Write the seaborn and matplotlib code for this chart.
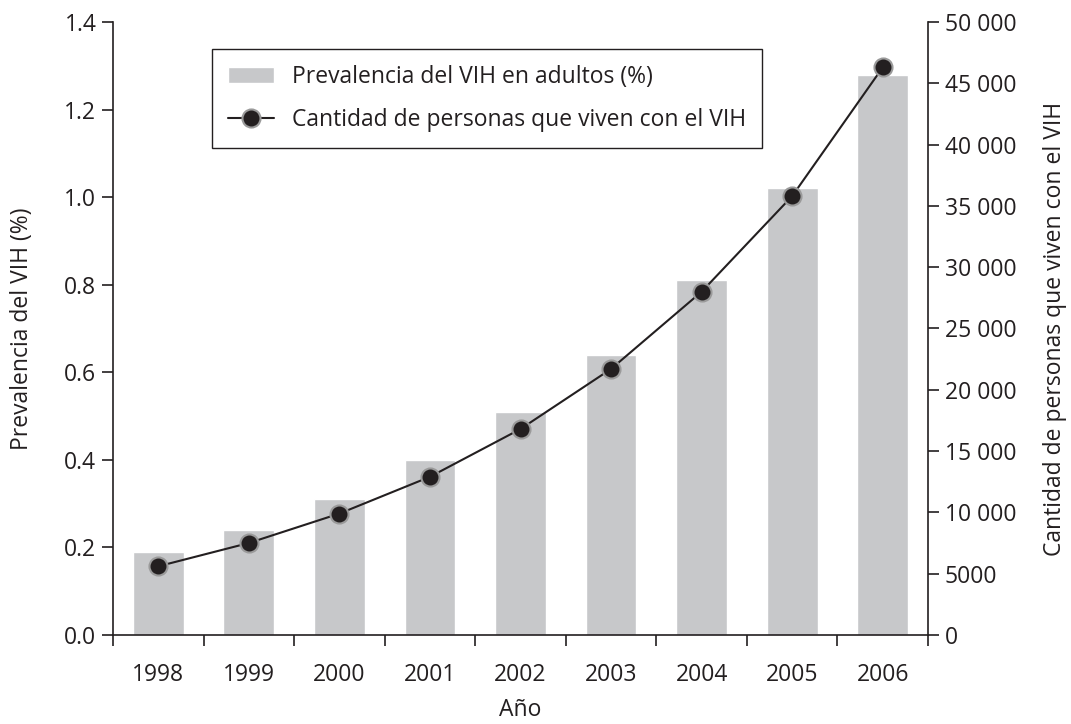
import numpy as np
import pandas as pd
import matplotlib
matplotlib.use("Agg")
import matplotlib.pyplot as plt
import seaborn as sns
from matplotlib.ticker import FuncFormatter, FixedLocator, NullFormatter

# ── Data ──────────────────────────────────────────────────────────────────────
years = ["1998", "1999", "2000", "2001", "2002", "2003", "2004", "2005", "2006"]
prevalence = [0.19, 0.24, 0.31, 0.40, 0.51, 0.64, 0.81, 1.02, 1.28]
people = [5600, 7500, 9900, 12900, 16800, 21700, 28000, 35800, 46300]

df = pd.DataFrame({"year": years, "prev": prevalence, "people": people})

# ── Style ─────────────────────────────────────────────────────────────────────
sns.set_theme(style="ticks")
plt.rcParams["font.family"] = ["Open Sans", "DejaVu Sans"]
TXT = "#231f20"
BAR = "#c7c8ca"
FS = 16.5
plt.rcParams.update({"text.color": TXT, "axes.labelcolor": TXT,
                     "xtick.color": TXT, "ytick.color": TXT,
                     "axes.edgecolor": TXT})

fig = plt.figure(figsize=(10.71, 7.24), dpi=100)
ax = fig.add_axes([0.1055, 0.123, 0.761, 0.8466])

sns.barplot(data=df, x="year", y="prev", color=BAR, width=0.56,
            saturation=1, ax=ax, label="Prevalencia del VIH en adultos (%)")

ax2 = ax.twinx()
sns.pointplot(data=df, x="year", y="people", color=TXT, ax=ax2,
              markers="o", linewidth=1.5, markersize=13,
              label="Cantidad de personas que viven con el VIH")
for ln in ax2.lines:
    ln.set_markeredgecolor("#9a9a9a")
    ln.set_markeredgewidth(1.5)
    ln.set_markerfacecolor(TXT)

# axes limits / spines
ax.set_ylim(0, 1.4)
ax2.set_ylim(0, 50000)
ax.set_xlim(-0.5, 8.5)
for a in (ax, ax2):
    a.spines["top"].set_visible(False)
    for s in ("left", "right", "bottom"):
        a.spines[s].set_linewidth(1.2)
ax.spines["right"].set_visible(False)
ax2.spines["left"].set_visible(False)
ax2.spines["bottom"].set_visible(False)

# ticks
ax.set_yticks(np.arange(0, 1.41, 0.2))
ax.yaxis.set_major_formatter(FuncFormatter(lambda v, p: f"{v:.1f}"))
ax2.set_yticks(np.arange(0, 50001, 5000))
def fmt_people(v, p):
    v = int(round(v))
    if v >= 10000:
        return f"{v:,}".replace(",", " ")
    return str(v)
ax2.yaxis.set_major_formatter(FuncFormatter(fmt_people))

ax.xaxis.set_major_locator(FixedLocator(np.arange(-0.5, 8.6, 1)))
ax.xaxis.set_major_formatter(NullFormatter())
ax.xaxis.set_minor_locator(FixedLocator(np.arange(0, 9)))
ax.set_xticklabels(years, minor=True)
ax.tick_params(axis="x", which="major", direction="out", length=8, width=1.2)
ax.tick_params(axis="x", which="minor", length=0, pad=20, labelsize=FS)
ax.tick_params(axis="y", direction="out", length=8, width=1.2, labelsize=FS, pad=4)
ax2.tick_params(axis="y", direction="out", length=8, width=1.2, labelsize=FS, pad=4)

ax.set_xlabel("Año", fontsize=FS, labelpad=8)
ax.set_ylabel("Prevalencia del VIH (%)", fontsize=FS, labelpad=22)
ax2.set_ylabel("Cantidad de personas que viven con el VIH", fontsize=FS, labelpad=19)
ax2.set_xlabel("")

# legend
h1, l1 = ax.get_legend_handles_labels()
h2, l2 = ax2.get_legend_handles_labels()
if ax.get_legend() is not None:
    ax.get_legend().remove()
ax2.legend(h1 + h2, l1 + l2, loc="upper left", bbox_to_anchor=(0.107, 0.974),
           frameon=True, fancybox=False, edgecolor=TXT, fontsize=FS,
           borderpad=0.7, labelspacing=0.8, handlelength=2.0, framealpha=1)
leg = ax2.get_legend()
leg.get_frame().set_linewidth(1.0)

fig.savefig("out.png", dpi=100)
